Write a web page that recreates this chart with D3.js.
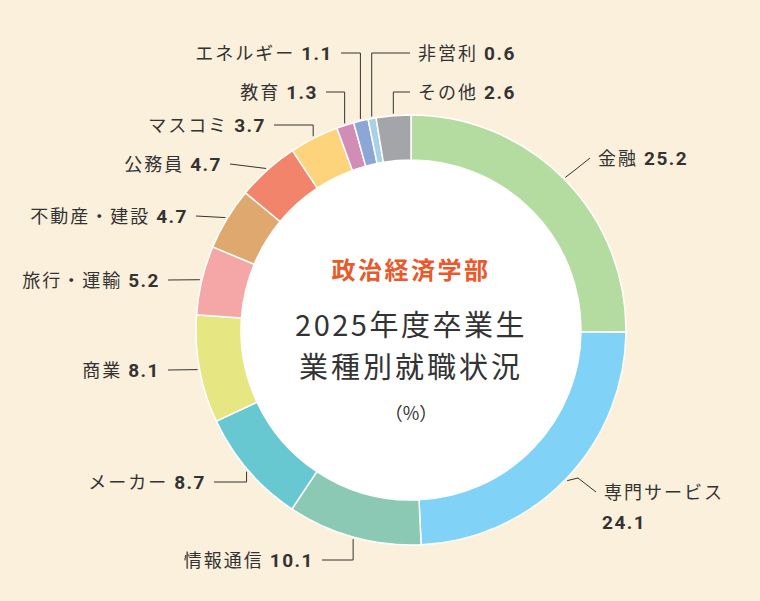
<!DOCTYPE html>
<html><head><meta charset="utf-8">
<script src="https://cdn.jsdelivr.net/npm/d3@7"></script>
<style>
body{margin:0;background:#fbf0dc;}
svg{display:block;font-family:"Noto Sans CJK JP","Noto Sans",sans-serif;}
</style></head>
<body><svg id="chart" width="760" height="601"></svg>
<script>
var categories = ['金融','専門サービス','情報通信','メーカー','商業','旅行・運輸','不動産・建設','公務員','マスコミ','教育','エネルギー','非営利','その他'];
var values = [25.2, 24.1, 10.1, 8.7, 8.1, 5.2, 4.7, 4.7, 3.7, 1.3, 1.1, 0.6, 2.6];
var colors = ['#b4dba0','#80d3f6','#8cc9b4','#68c8d2','#e6e683','#f5a6a7','#dfa86e','#f3846c','#fdd47c','#d18db6','#8ca7d5','#a9d0e9','#a4a5a8'];

// label layout: text anchor point, side, elbow path
var layout = [
  {x:598, y:158, side:'r', pts:[[590,158],[575,170]]},
  {x:604, y:492, side:'r', pts:[[596,492],[578,478]], two:true},
  {x:314, y:560, side:'l', pts:[[322,560],[352,560]]},
  {x:206, y:482, side:'l', pts:[[214,482],[238,482]]},
  {x:160, y:370, side:'l', pts:[[168,370]]},
  {x:160, y:280, side:'l', pts:[[168,280]]},
  {x:188, y:216, side:'l', pts:[[196,216]]},
  {x:222, y:164, side:'l', pts:[[230,164]]},
  {x:266, y:125, side:'l', pts:[[274,125],[304,125]]},
  {x:318, y:92, side:'l', pts:[[326,92],[344,92]]},
  {x:333, y:53, side:'l', pts:[[341,53],[358,53]]},
  {x:418, y:53, side:'r', pts:[[410,53],[374,53]]},
  {x:418, y:92, side:'r', pts:[[410,92],[395,92]]}
];

var svg = d3.select('#chart');
var cx = 411, cy = 330, outerR = 215, innerR = 170;
var g = svg.append('g').attr('transform','translate('+cx+','+cy+')');

var pie = d3.pie().sort(null).value(function(d){ return d; });
var arcs = pie(values);
var arc = d3.arc().innerRadius(innerR).outerRadius(outerR);

g.append('circle').attr('r', innerR).attr('fill','#fff');

g.selectAll('path.slice').data(arcs).enter().append('path')
  .attr('class','slice')
  .attr('d', arc)
  .attr('fill', function(d,i){ return colors[i]; })
  .attr('stroke','#fff').attr('stroke-width',1.5);

arcs.forEach(function(a,i){
  var L = layout[i];
  var mid = (a.startAngle + a.endAngle)/2;
  var r0 = outerR + 2;
  var p0 = [cx + Math.sin(mid)*r0, cy - Math.cos(mid)*r0];
  var pts = L.pts.slice();
  if (pts.length > 1 && Math.abs(pts[1][1]-pts[0][1]) < 1) {
    pts[1] = [p0[0], pts[1][1]];
  }
  pts.push(p0);
  svg.append('path')
    .attr('d', d3.line()(pts))
    .attr('fill','none').attr('stroke','#333').attr('stroke-width',1);

  var t = svg.append('text')
    .attr('x', L.x).attr('y', L.y + 7)
    .attr('text-anchor', L.side === 'l' ? 'end' : 'start')
    .attr('font-size', 18).attr('letter-spacing', 2).attr('fill','#333');
  if (L.two) {
    t.text(categories[i]);
    svg.append('text').attr('x', L.x - 2).attr('y', L.y + 37)
      .attr('font-size',19).attr('font-weight','bold').attr('letter-spacing',1.5).attr('fill','#333')
      .attr('font-family','Roboto, sans-serif')
      .text(values[i].toFixed(1));
  } else {
    t.append('tspan').text(categories[i] + ' ');
    t.append('tspan').attr('font-weight','bold').attr('font-size',19)
      .attr('letter-spacing',1.5).attr('font-family','Roboto, sans-serif')
      .text(values[i].toFixed(1));
  }
});

g.append('text').attr('y', -51).attr('text-anchor','middle')
  .attr('font-size',24).attr('font-weight','bold').attr('letter-spacing',2.5).attr('fill','#e9592b').text('政治経済学部');
g.append('text').attr('y', 6).attr('text-anchor','middle')
  .attr('font-size',29).attr('letter-spacing',2.5).attr('fill','#333').text('2025年度卒業生');
g.append('text').attr('y', 48).attr('text-anchor','middle')
  .attr('font-size',29).attr('letter-spacing',3).attr('fill','#333').text('業種別就職状況');
g.append('text').attr('y', 90).attr('text-anchor','middle')
  .attr('font-size',18).attr('fill','#333').text('（%）');
</script>
</body></html>
